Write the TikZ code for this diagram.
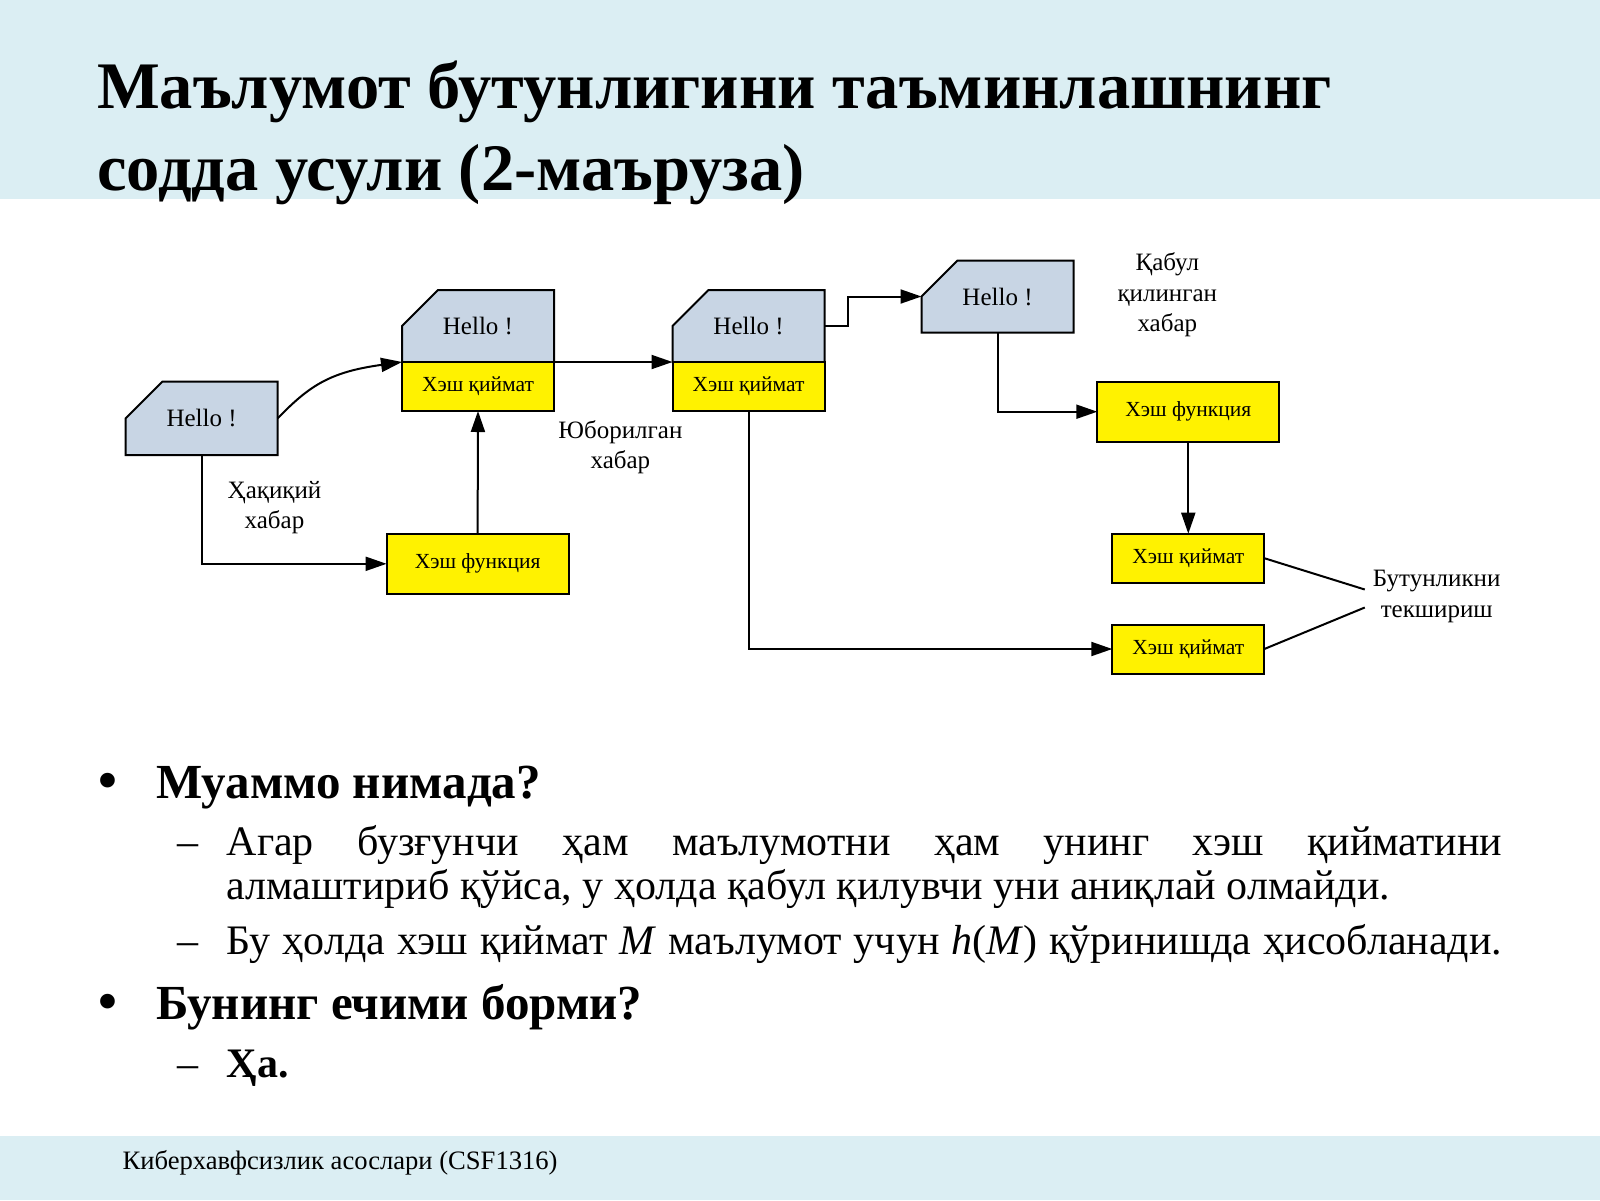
\documentclass[tikz,border=0pt]{standalone}
\usepackage{fontspec}
\setmainfont{Liberation Serif}
\usepackage{xcolor}
\usetikzlibrary{arrows.meta,positioning,shapes.misc}

\definecolor{bandblue}{RGB}{219,238,243}
\definecolor{msgblue}{RGB}{200,213,228}

\begin{document}
\begin{tikzpicture}[
  x=1pt, y=-1pt,
  node distance=0pt,
  font=\fontsize{25}{30.5}\selectfont,
  % Node styles
  msg/.style={chamfered rectangle, chamfered rectangle corners=north west, chamfered rectangle xsep=30pt, chamfered rectangle ysep=27.5pt, text height=17pt, text depth=0pt, draw=black, line width=2pt, fill=msgblue, minimum width=152pt, minimum height=72pt, inner sep=0pt, outer sep=0pt},
  hashbox/.style={rectangle, draw=black, line width=2pt, fill=yellow, minimum width=152pt, minimum height=49pt, inner sep=0pt, outer sep=0pt, font=\fontsize{21.5}{25}\selectfont},
  funcbox/.style={hashbox, minimum width=182pt, minimum height=60pt},
  lbl/.style={align=center, inner sep=8pt},
  arr/.style={-{Triangle[length=21pt,width=14pt]}, line width=2pt},
  link/.style={line width=2pt},
  band/.style={fill=bandblue, draw=none},
  heading/.style={anchor=base west, inner sep=0pt, font=\fontsize{66.5}{79}\selectfont\bfseries},
  question/.style={anchor=base west, inner sep=0pt, font=\fontsize{49}{58}\selectfont\bfseries},
  answer/.style={anchor=base west, inner sep=0pt, font=\fontsize{42}{50}\selectfont},
  bullet/.style={question, font=\fontsize{54}{60}\selectfont\bfseries}
]
  \useasboundingbox (0,0) rectangle (1600,1200);

  % Bands
  \path[band] (0,0) rectangle (1600,199);
  \path[band] (0,1136) rectangle (1600,1200);

  % Title
  \node[heading] (title1) at (97,108) {Маълумот бутунлигини таъминлашнинг};
  \node[heading] (title2) at (97,190) {содда усули (2-маъруза)};

  % Sender side
  \node[msg, chamfered rectangle ysep=28.25pt] (hello) at (201.6,418.4) {Hello !};
  \node[msg] (sent) at (478,326) {Hello !};
  \node[hashbox, below=of sent] (senthash) {Хэш қиймат};
  \node[funcbox] (sentfunc) at (477.6,563.8) {Хэш функция};

  % Channel
  \node[msg] (recv) at (748.5,326) {Hello !};
  \node[hashbox, below=of recv] (recvhash) {Хэш қиймат};

  % Receiver side
  \node[msg] (got) at (997.5,296.5) {Hello !};
  \node[funcbox] (gotfunc) at (1188.3,411.7) {Хэш функция};
  \node[hashbox] (gothash) at (1188.3,558.2) {Хэш қиймат};
  \node[hashbox] (cmphash) at (1188.3,649) {Хэш қиймат};

  % Labels
  \node[lbl] (realmsg) at (274.5,507.7) {Ҳақиқий\\хабар};
  \node[lbl] (sentmsg) at (620.4,447) {Юборилган\\хабар};
  \node[lbl] (gotmsg) at (1167.3,295) {Қабул\\қилинган\\хабар};
  \node[lbl] (check) at (1436.7,596.5) {Бутунликни\\текшириш};

  % Edges
  \draw[arr] (hello.east) .. controls +(32,-33) and +(-72,10) .. (sent.south west);
  \draw[arr] (hello.south) |- (sentfunc.west);
  \draw[arr] (sentfunc.north) -- (senthash.south);
  \draw[arr] (sent.south east) -- (recv.south west);
  \draw[arr] (recv.east) -- ++(23,0) |- (got.west);
  \draw[arr] (got.south) |- (gotfunc.west);
  \draw[arr] (gotfunc.south) -- (gothash.north);
  \draw[arr] (recvhash.south) |- (cmphash.west);
  \draw[link] (gothash.east) -- ([yshift=7pt]check.west);
  \draw[link] (cmphash.east) -- ([yshift=-11pt]check.west);

  % Bullets
  \node[bullet] (dot1) at (98,798) {•};
  \node[question] (q1) at (156,798) {Муаммо нимада?};
  \node[answer] (dash1) at (177.6,855) {–};
  \node[answer] (a1) at (226.5,855) {\makebox[1275.5pt][s]{Агар бузғунчи ҳам маълумотни ҳам унинг хэш қийматини}};
  \node[answer] (a2) at (226.5,899) {алмаштириб қўйса, у ҳолда қабул қилувчи уни аниқлай олмайди.};
  \node[answer] (dash2) at (177.6,954) {–};
  \node[answer] (a3) at (226.5,954) {\makebox[1275.5pt][s]{Бу ҳолда хэш қиймат \textit{M} маълумот учун \textit{h}(\textit{M}) қўринишда ҳисобланади.}};
  \node[bullet] (dot2) at (98,1019) {•};
  \node[question] (q2) at (156,1019) {Бунинг ечими борми?};
  \node[answer] (dash3) at (177.6,1077) {–};
  \node[answer, font=\fontsize{42}{50}\selectfont\bfseries] (a4) at (226.5,1077) {Ҳа.};

  % Footer
  \node[anchor=base west, inner sep=0pt, font=\fontsize{26.6}{31}\selectfont] (foot) at (122.4,1169.5) {Киберхавфсизлик асослари (CSF1316)};
\end{tikzpicture}
\end{document}
